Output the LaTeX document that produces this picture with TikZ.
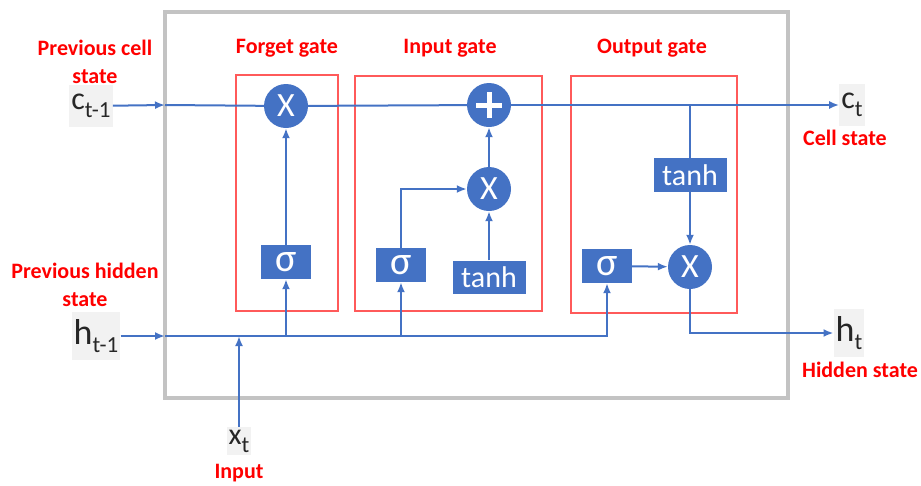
\documentclass[tikz,border=0pt]{standalone}
\usepackage{fontspec}
\setmainfont{Carlito}
\usepackage{tikz}
\usetikzlibrary{arrows.meta}

\definecolor{lstmblue}{HTML}{4472C4}
\definecolor{gatered}{HTML}{FF5A5A}
\definecolor{framegray}{HTML}{C3C3C3}
\definecolor{varbg}{HTML}{F2F2F2}

\newcommand{\statevar}[3][32]{{\fontsize{#1}{#1}\selectfont #2}\raisebox{-8pt}{\fontsize{23}{23}\selectfont #3}}

\begin{document}
\begin{tikzpicture}[x=1pt,y=-1pt,>={Latex[length=10pt,width=8pt]},
  op/.style={circle,fill=lstmblue,text=white,minimum size=44pt,inner sep=0pt,font=\fontsize{34}{34}\selectfont},
  fn/.style={fill=lstmblue,text=white,inner sep=0pt,minimum height=34pt,font=\fontsize{30}{30}\selectfont},
  sig/.style={fn,minimum width=50pt,font=\fontsize{40}{40}\selectfont},
  gatebox/.style={draw=gatered,line width=1.2pt},
  flow/.style={draw=lstmblue,line width=2pt},
  lab/.style={text=red,font=\bfseries\fontsize{22}{28}\selectfont,inner sep=0pt},
  statebox/.style={fill=varbg,text=black!85,inner sep=2pt,minimum height=#1}]
\useasboundingbox (0,0) rectangle (921,485);

% cell frame and gates
\node[draw=framegray,line width=4.5pt,minimum width=623pt,minimum height=386pt] (cell) at (476.5,205) {};
\node[gatebox,minimum width=102pt,minimum height=236pt] (fgate) at (287,193) {};
\node[gatebox,minimum width=187pt,minimum height=235pt] (igate) at (448.5,193.5) {};
\node[gatebox,minimum width=166pt,minimum height=237pt] (ogate) at (654,194.5) {};
\node[lab] (fglab) at (287,48) {Forget gate};
\node[lab] (iglab) at (450,48) {Input gate};
\node[lab] (oglab) at (652,48) {Output gate};

% operations
\node[op] (fx) at (286,106) {X};
\node[op] (add) at (489,105) {};
\draw[white,line width=5pt] (add.center) ++(-13,0) -- ++(26,0);
\draw[white,line width=5pt] (add.center) ++(0,-13) -- ++(0,26);
\node[op] (ix) at (489,189) {X};
\node[op] (ox) at (690,267) {X};
\node[sig] (fsig) at (286,262) {σ};
\node[sig] (isig) at (401,265) {σ};
\node[fn,minimum width=73pt,minimum height=33pt] (itanh) at (489,277) {tanh};
\node[fn,minimum width=73pt] (otanh) at (690,175) {tanh};
\node[sig] (osig) at (607,266) {σ};

% states
\node[statebox=42pt] (cprev) at (91,106) {\statevar{c}{t-1}};
\node[statebox=48pt] (hprev) at (96,336) {\statevar[36]{h}{t-1}};
\node[statebox=28pt] (xt) at (239,441) {\statevar[30]{x}{t}};
\node[statebox=42pt] (ct) at (852,105) {\statevar{c}{t}};
\node[statebox=48pt] (ht) at (849,333) {\statevar[36]{h}{t}};
\node[lab,align=center] (prevc) at (95,62) {Previous cell\\state};
\node[lab,align=center] (prevh) at (85,285) {Previous hidden\\state};
\node[lab] (cstate) at (845,138) {Cell state};
\node[lab] (hstate) at (860,370) {Hidden state};
\node[lab] (inlab) at (239,473) {Input};

\coordinate (cin) at (165,105);
\coordinate (hin) at (165,336);
\coordinate (xin) at (239,336);

% connectors
\draw[flow,->] (cprev) -- (cin);
\draw[flow] (cin) -- (fx) -- (add);
\draw[flow,->] (add) -- (ct);
\draw[flow,->] (fsig) -- (fx);
\draw[flow,->] (hprev) -- (hin);
\draw[flow,->] (hin) -| (osig);
\draw[flow,->] (fsig.south |- hin) -- (fsig);
\draw[flow,->] (isig.south |- hin) -- (isig);
\draw[flow,->] (xt) -- (xin);
\draw[flow,->] (isig) |- (ix);
\draw[flow,->] (itanh) -- (ix);
\draw[flow,->] (ix) -- (add);
\draw[flow] (otanh |- add) -- (otanh);
\draw[flow,->] (otanh) -- (ox);
\draw[flow,->] (osig) -- (ox);
\draw[flow,->] (ox) |- (ht);
\end{tikzpicture}
\end{document}
